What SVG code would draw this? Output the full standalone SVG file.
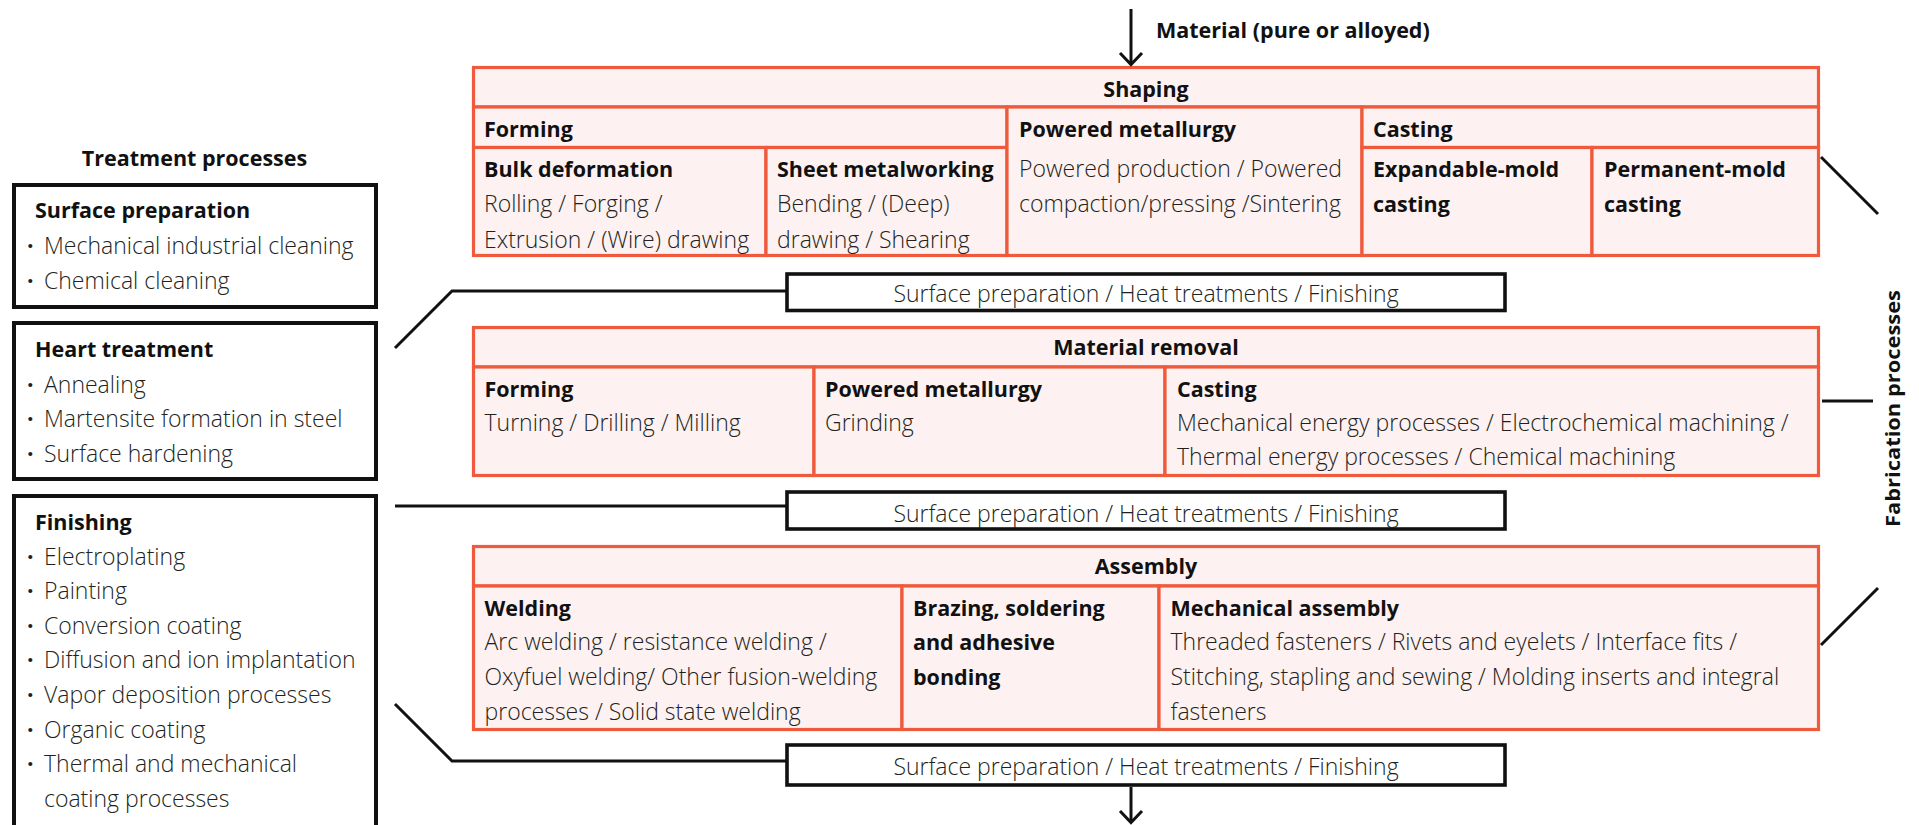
<svg xmlns="http://www.w3.org/2000/svg" width="1919" height="825" viewBox="0 0 1919 825">
<defs>
<style>
text{font-family:"Open Sans","Liberation Sans",Arial,sans-serif;font-size:23px;fill:#231f20}
.b{font-weight:700;fill:#111;font-size:21.5px}
.l{font-weight:300}
.d{font-weight:700;fill:#231f20}
.c{text-anchor:middle}
.cell{fill:#fdf1f1;stroke:#ef5a3d;stroke-width:3.2}
.tbox{fill:#fff;stroke:#111;stroke-width:4}
.sp{fill:#fff;stroke:#111;stroke-width:3.6}
.ln{fill:none;stroke:#111;stroke-width:3}
</style>
</defs>
<rect width="1919" height="825" fill="#fff"/>

<!-- Treatment processes -->
<g id="treatment-title"><text class="b c" x="194.5" y="166">Treatment processes</text></g>
<g id="surface-preparation">
<rect class="tbox" x="14" y="185" width="362" height="122"/>
<text class="b" x="35" y="218">Surface preparation</text>
<text class="d" x="27" y="254">·</text><text class="l" x="44" y="254">Mechanical industrial cleaning</text>
<text class="d" x="27" y="289">·</text><text class="l" x="44" y="289">Chemical cleaning</text>
</g>
<g id="heart-treatment">
<rect class="tbox" x="14" y="323" width="362" height="156"/>
<text class="b" x="35" y="357">Heart treatment</text>
<text class="d" x="27" y="393">·</text><text class="l" x="44" y="393">Annealing</text>
<text class="d" x="27" y="427">·</text><text class="l" x="44" y="427">Martensite formation in steel</text>
<text class="d" x="27" y="462">·</text><text class="l" x="44" y="462">Surface hardening</text>
</g>
<g id="finishing">
<rect class="tbox" x="14" y="496" width="362" height="340"/>
<text class="b" x="35" y="530">Finishing</text>
<text class="d" x="27" y="565">·</text><text class="l" x="44" y="565">Electroplating</text>
<text class="d" x="27" y="599">·</text><text class="l" x="44" y="599">Painting</text>
<text class="d" x="27" y="634">·</text><text class="l" x="44" y="634">Conversion coating</text>
<text class="d" x="27" y="668">·</text><text class="l" x="44" y="668">Diffusion and ion implantation</text>
<text class="d" x="27" y="703">·</text><text class="l" x="44" y="703">Vapor deposition processes</text>
<text class="d" x="27" y="738">·</text><text class="l" x="44" y="738">Organic coating</text>
<text class="d" x="27" y="772">·</text><text class="l" x="44" y="772">Thermal and mechanical</text>
<text class="l" x="44" y="807">coating processes</text>
</g>

<!-- Material input -->
<g id="material-label"><text class="b" x="1156" y="38">Material (pure or alloyed)</text></g>

<!-- Shaping table -->
<g id="shaping">
<rect class="cell" x="473.5" y="67.5" width="1345" height="39.5"/>
<text class="b c" x="1146" y="97">Shaping</text>
<rect class="cell" x="473.5" y="107" width="533.5" height="40.5"/>
<text class="b" x="484" y="137">Forming</text>
<rect class="cell" x="473.5" y="147.5" width="292.5" height="108"/>
<text class="b" x="484" y="177">Bulk deformation</text>
<text class="l" x="484" y="212">Rolling / Forging /</text>
<text class="l" x="484" y="248">Extrusion / (Wire) drawing</text>
<rect class="cell" x="766" y="147.5" width="241" height="108"/>
<text class="b" x="777" y="177">Sheet metalworking</text>
<text class="l" x="777" y="212">Bending / (Deep)</text>
<text class="l" x="777" y="248">drawing / Shearing</text>
<rect class="cell" x="1007" y="107" width="355" height="148.5"/>
<text class="b" x="1019" y="137">Powered metallurgy</text>
<text class="l" x="1019" y="177">Powered production / Powered</text>
<text class="l" x="1019" y="212">compaction/pressing /Sintering</text>
<rect class="cell" x="1362" y="107" width="456.5" height="40.5"/>
<text class="b" x="1373" y="137">Casting</text>
<rect class="cell" x="1362" y="147.5" width="230" height="108"/>
<text class="b" x="1373" y="177">Expandable-mold</text>
<text class="b" x="1373" y="212">casting</text>
<rect class="cell" x="1592" y="147.5" width="226.5" height="108"/>
<text class="b" x="1604" y="177">Permanent-mold</text>
<text class="b" x="1604" y="212">casting</text>
</g>

<!-- SP box 1 -->
<g id="sp-box-1">
<rect class="sp" x="787" y="274" width="718" height="36.5"/>
<text class="l c" x="1146" y="302">Surface preparation / Heat treatments / Finishing</text>
</g>

<!-- Material removal table -->
<g id="material-removal">
<rect class="cell" x="473.5" y="327.5" width="1345" height="39.5"/>
<text class="b c" x="1146" y="355">Material removal</text>
<rect class="cell" x="473.5" y="367" width="340.5" height="108.5"/>
<text class="b" x="484.5" y="397">Forming</text>
<text class="l" x="484.5" y="431">Turning / Drilling / Milling</text>
<rect class="cell" x="814" y="367" width="351" height="108.5"/>
<text class="b" x="825" y="397">Powered metallurgy</text>
<text class="l" x="825" y="431">Grinding</text>
<rect class="cell" x="1165" y="367" width="653.5" height="108.5"/>
<text class="b" x="1177" y="397">Casting</text>
<text class="l" x="1177" y="431">Mechanical energy processes / Electrochemical machining /</text>
<text class="l" x="1177" y="465">Thermal energy processes / Chemical machining</text>
</g>

<!-- SP box 2 -->
<g id="sp-box-2">
<rect class="sp" x="787" y="492" width="718" height="37"/>
<text class="l c" x="1146" y="522">Surface preparation / Heat treatments / Finishing</text>
</g>

<!-- Assembly table -->
<g id="assembly">
<rect class="cell" x="473.5" y="546.5" width="1345" height="39.5"/>
<text class="b c" x="1146" y="574">Assembly</text>
<rect class="cell" x="473.5" y="586" width="428.5" height="143.5"/>
<text class="b" x="484.5" y="616">Welding</text>
<text class="l" x="484.5" y="650">Arc welding / resistance welding /</text>
<text class="l" x="484.5" y="685">Oxyfuel welding/ Other fusion-welding</text>
<text class="l" x="484.5" y="720">processes / Solid state welding</text>
<rect class="cell" x="902" y="586" width="257" height="143.5"/>
<text class="b" x="913" y="616">Brazing, soldering</text>
<text class="b" x="913" y="650">and adhesive</text>
<text class="b" x="913" y="685">bonding</text>
<rect class="cell" x="1159" y="586" width="659.5" height="143.5"/>
<text class="b" x="1170.5" y="616">Mechanical assembly</text>
<text class="l" x="1170.5" y="650">Threaded fasteners / Rivets and eyelets / Interface fits /</text>
<text class="l" x="1170.5" y="685">Stitching, stapling and sewing / Molding inserts and integral</text>
<text class="l" x="1170.5" y="720">fasteners</text>
</g>

<!-- SP box 3 -->
<g id="sp-box-3">
<rect class="sp" x="787" y="745" width="718" height="40"/>
<text class="l c" x="1146" y="775">Surface preparation / Heat treatments / Finishing</text>
</g>

<!-- Fabrication label -->
<g id="fabrication-label">
<text class="b c" transform="translate(1900,408.5) rotate(-90)" x="0" y="0" style="font-size:20px" textLength="237" lengthAdjust="spacingAndGlyphs">Fabrication processes</text>
</g>

<!-- Connectors -->
<g id="connectors">
<polyline class="ln" points="1131,9 1131,64"/>
<polyline class="ln" points="1120,53 1131,64.5 1142,53"/>
<polyline class="ln" points="1131,787 1131,822"/>
<polyline class="ln" points="1120,811 1131,822.5 1142,811"/>
<polyline class="ln" points="395,348 452,291 787,291"/>
<polyline class="ln" points="395,506 787,506"/>
<polyline class="ln" points="395,704 452,761 787,761"/>
<line class="ln" x1="1821" y1="157" x2="1878" y2="214"/>
<line class="ln" x1="1822" y1="401" x2="1873" y2="401" stroke-width="4"/>
<line class="ln" x1="1821" y1="645" x2="1878" y2="588"/>
</g>
</svg>
